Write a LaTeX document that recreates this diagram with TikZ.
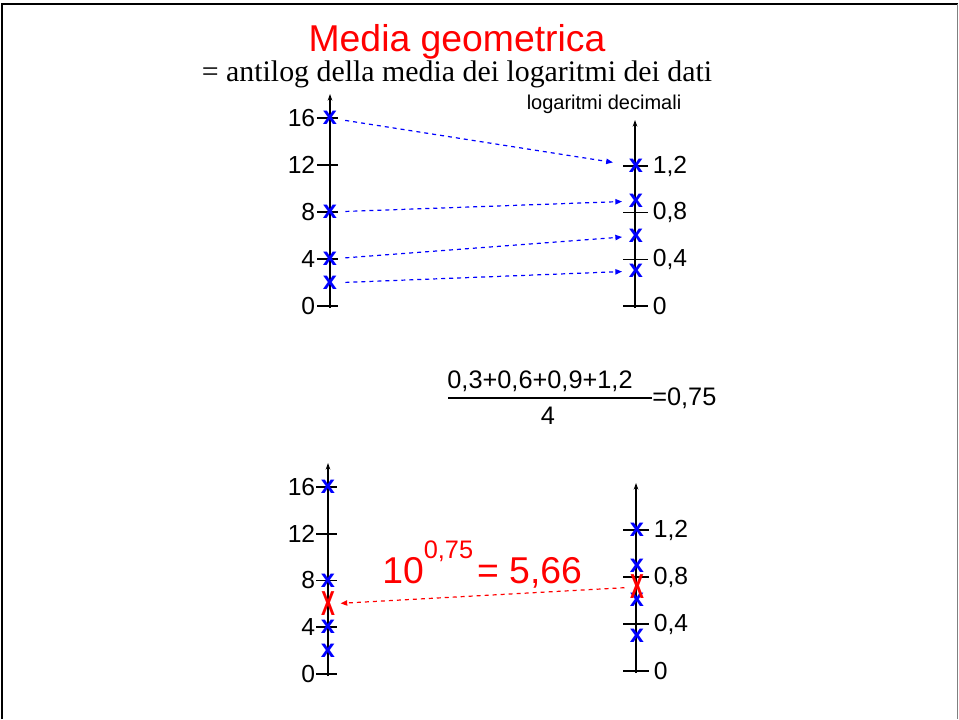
\documentclass[tikz,border=0pt]{standalone}
\usepackage{fontspec}
\setmainfont{Liberation Sans}
\newfontfamily\serifrm{Liberation Serif}
\usetikzlibrary{arrows.meta}

\tikzset{
  axis/.style={line width=1.2pt, -{Stealth[length=5pt,width=3.5pt]}},
  tick/.style={line width=1.2pt},
  ticklab/.style={font=\fontsize{18.5}{18.5}\selectfont, inner sep=0pt},
  bluex/.style={text=blue, font=\bfseries\fontsize{19}{19}\selectfont, inner sep=0pt},
  redx/.style={text=red, font=\bfseries\fontsize{26}{26}\selectfont, inner sep=0pt},
  link/.style={line width=0.9pt, dash pattern=on 3pt off 3pt, -{Triangle[length=5pt,width=4pt]}},
}

\begin{document}
\begin{tikzpicture}[x=0.75pt, y=-0.75pt]
        \useasboundingbox (0,0) rectangle (959,719);

        % Frame
        \draw[line width=2pt] (2,719) -- (2,4) -- (958,4);
        \draw[gray, line width=0.6pt] (957,4) -- (957,719);

        % Titles
        \node[red, font=\fontsize{28}{28}\selectfont, inner sep=0pt] (title) at (457,42) {Media geometrica};
        \node[font=\serifrm\fontsize{22.4}{22.4}\selectfont, inner sep=0pt] (subtitle) at (457,74) {= antilog della media dei logaritmi dei dati};
        \node[font=\fontsize{15}{15}\selectfont, inner sep=0pt] (loglab) at (604,104) {logaritmi decimali};

        % Upper left axis: 0 at 306, 11.75 per unit
        \def\ulx{330}
        \draw[axis] (\ulx,308) -- (\ulx,94);
        \foreach \v in {0,4,8,12,16}
          \draw[tick] (\ulx-13,306-\v*11.75) -- (\ulx+8,306-\v*11.75)
            node[ticklab, anchor=east, xshift={-22*0.75pt}] {\v};
        \node[bluex] (ua16) at (\ulx,118) {x};
        \node[bluex] (ua8) at (\ulx,212) {x};
        \node[bluex] (ua4) at (\ulx,259) {x};
        \node[bluex] (ua2) at (\ulx,283) {x};

        % Upper right axis: 0 at 306, 116.7 per unit
        \def\urx{635}
        \draw[axis] (\urx,308) -- (\urx,120);
        \foreach \v/\t in {0/0,0.4/{0,4},0.8/{0,8},1.2/{1,2}}
          \draw[tick] (\urx-12,306-\v*116.7) -- (\urx+13,306-\v*116.7)
            node[ticklab, anchor=west, xshift={4*0.75pt}] {\t};
        \node[bluex] (ub12) at (\urx+1,166) {x};
        \node[bluex] (ub9) at (\urx+1,201) {x};
        \node[bluex] (ub6) at (\urx+1,236) {x};
        \node[bluex] (ub3) at (\urx+1,271) {x};

        % Logarithms
        \draw[link, blue, shorten <=6pt, shorten >=12pt] (ua16) -- (ub12);
        \draw[link, blue, shorten <=6pt, shorten >=5pt] (ua8) -- (ub9);
        \draw[link, blue, shorten <=6pt, shorten >=5pt] (ua4) -- (ub6);
        \draw[link, blue, shorten <=6pt, shorten >=5pt] (ua2) -- (ub3);

        % Mean of the logarithms
        \node[font=\fontsize{19}{19}\selectfont, inner sep=0pt] (num) at (540,381) {0,3+0,6+0,9+1,2};
        \node[font=\fontsize{19}{19}\selectfont, inner sep=0pt] (den) at (548,416) {4};
        \coordinate (fracl) at (448,398);
        \coordinate (fracr) at (652,398);
        \draw[line width=0.8pt] (fracl) -- (fracr);
        \node[font=\fontsize{19}{19}\selectfont, inner sep=0pt, anchor=west] (res) at (fracr) {=0,75};

        % Lower left axis: 0 at 674, 11.69 per unit
        \def\llx{328}
        \draw[axis] (\llx,676) -- (\llx,463);
        \foreach \v in {0,4,8,12,16}
          \draw[tick] (\llx-12,674-\v*11.69) -- (\llx+9,674-\v*11.69)
            node[ticklab, anchor=east, xshift={-21*0.75pt}] {\v};
        \node[bluex] (la16) at (\llx,487) {x};
        \node[bluex] (la8) at (\llx,581) {x};
        \node[bluex] (la4) at (\llx,627) {x};
        \node[bluex] (la2) at (\llx,651) {x};
        \node[redx] (lamean) at (\llx,604) {\scalebox{0.6}[1]{X}};

        % Lower right axis: 0 at 671, 117.5 per unit
        \def\lrx{636}
        \draw[axis] (\lrx,673) -- (\lrx,483);
        \foreach \v/\t in {0/0,0.4/{0,4},0.8/{0,8},1.2/{1,2}}
          \draw[tick] (\lrx-13,671-\v*117.5) -- (\lrx+13,671-\v*117.5)
            node[ticklab, anchor=west, xshift={4*0.75pt}] {\t};
        \node[bluex] (lb12) at (\lrx+1,530) {x};
        \node[bluex] (lb9) at (\lrx+1,566) {x};
        \node[bluex] (lb6) at (\lrx+1,600) {x};
        \node[bluex] (lb3) at (\lrx+1,636) {x};
        \node[redx] (lbmean) at (\lrx+1,587) {\scalebox{0.6}[1]{X}};

        % Antilog of the mean
        \draw[link, red, shorten <=4pt, shorten >=4pt] (lbmean) -- (lamean);
        \node[red, font=\fontsize{28}{28}\selectfont, inner sep=0pt, anchor=base west] (antilog) at (382,583)
          {10\raisebox{0.67em}{\fontsize{19}{19}\selectfont 0,75}\kern3pt= 5,66};

\end{tikzpicture}
\end{document}
